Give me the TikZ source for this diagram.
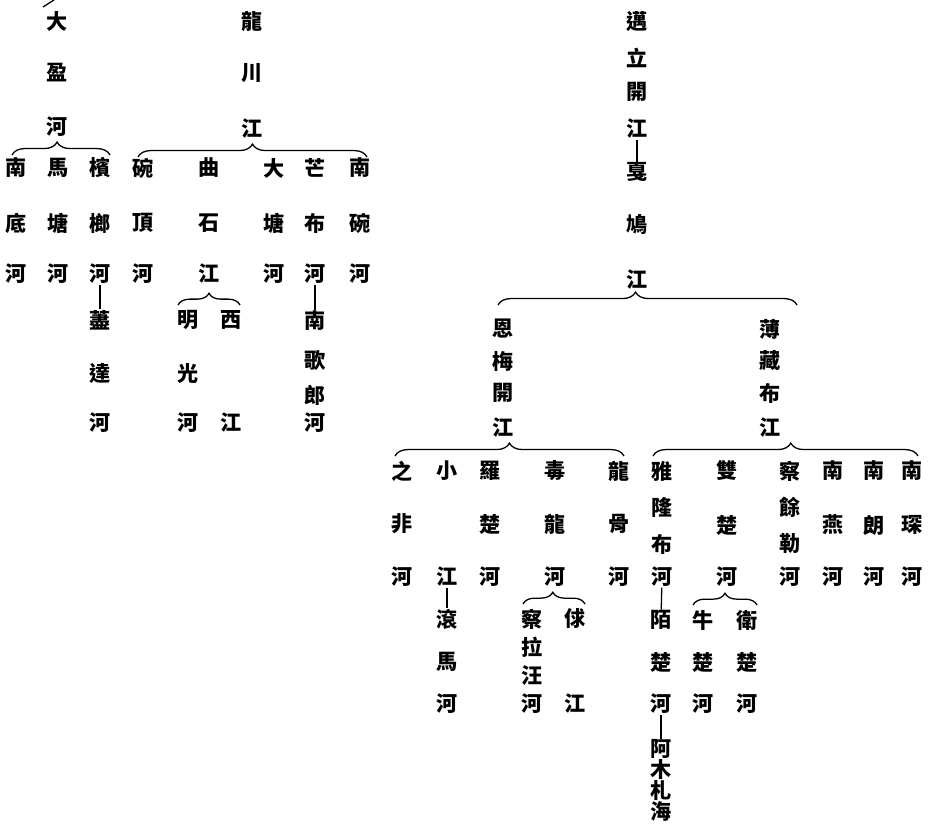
\documentclass[tikz,border=0pt]{standalone}
\usepackage{fontspec}
\newfontfamily\cjk{Noto Sans CJK TC}
\usetikzlibrary{decorations.pathreplacing}

\begin{document}
\begin{tikzpicture}[x=0.03cm, y=-0.03cm,
  zi/.style={font=\cjk\bfseries\fontsize{18pt}{18pt}\selectfont, inner sep=0.5pt},
  link/.style={line width=1.1pt},
  fork/.style={line width=1.1pt, decorate, decoration={brace, amplitude=#1}},
  fork/.default=11pt,
]
\useasboundingbox (0,0) rectangle (931,824);

\node[zi] (dy1) at (57, 21) {大};
\node[zi] (dy2) at (57, 73) {盈};
\node[zi] (dy3) at (57, 127) {河};
\node[zi] (lc1) at (252, 21) {龍};
\node[zi] (lc2) at (252, 73) {川};
\node[zi] (lc3) at (252, 129) {江};

\node[zi] (nd1) at (16, 168) {南};
\node[zi] (nd2) at (16, 223) {底};
\node[zi] (nd3) at (16, 274) {河};
\node[zi] (mt1) at (58, 168) {馬};
\node[zi] (mt2) at (58, 223) {塘};
\node[zi] (mt3) at (58, 274) {河};
\node[zi] (bl1) at (100, 168) {檳};
\node[zi] (bl2) at (100, 223) {榔};
\node[zi] (bl3) at (100, 274) {河};
\node[zi] (wd1) at (143, 168) {碗};
\node[zi] (wd2) at (143, 223) {頂};
\node[zi] (wd3) at (143, 274) {河};
\node[zi] (qs1) at (209, 168) {曲};
\node[zi] (qs2) at (209, 223) {石};
\node[zi] (qs3) at (209, 274) {江};
\node[zi] (dt1) at (274, 168) {大};
\node[zi] (dt2) at (274, 223) {塘};
\node[zi] (dt3) at (274, 274) {河};
\node[zi] (mb1) at (315, 168) {芒};
\node[zi] (mb2) at (315, 223) {布};
\node[zi] (mb3) at (315, 274) {河};
\node[zi] (nw1) at (360, 168) {南};
\node[zi] (nw2) at (360, 223) {碗};
\node[zi] (nw3) at (360, 274) {河};

\node[zi] (jd1) at (100, 320) {藎};
\node[zi] (jd2) at (100, 374) {達};
\node[zi] (jd3) at (100, 423) {河};
\node[zi] (mg1) at (188, 320) {明};
\node[zi] (mg2) at (188, 374) {光};
\node[zi] (mg3) at (188, 423) {河};
\node[zi] (xj1) at (231, 320) {西};
\node[zi] (xj2) at (231, 423) {江};
\node[zi] (ng1) at (315, 321) {南};
\node[zi] (ng2) at (315, 360) {歌};
\node[zi] (ng3) at (315, 395) {郎};
\node[zi] (ng4) at (315, 423) {河};

\node[zi] (ml1) at (637, 22) {邁};
\node[zi] (ml2) at (637, 58) {立};
\node[zi] (ml3) at (637, 92) {開};
\node[zi] (ml4) at (637, 129) {江};
\node[zi] (gj1) at (637, 172) {戛};
\node[zi] (gj2) at (637, 224) {鳩};
\node[zi] (gj3) at (637, 280) {江};

\node[zi] (em1) at (503, 329) {恩};
\node[zi] (em2) at (503, 361) {梅};
\node[zi] (em3) at (503, 393) {開};
\node[zi] (em4) at (503, 428) {江};
\node[zi] (bz1) at (770, 329) {薄};
\node[zi] (bz2) at (770, 361) {藏};
\node[zi] (bz3) at (770, 393) {布};
\node[zi] (bz4) at (770, 428) {江};

\node[zi] (zf1) at (402, 471) {之};
\node[zi] (zf2) at (402, 524) {非};
\node[zi] (zf3) at (402, 577) {河};
\node[zi] (xo1) at (447, 471) {小};
\node[zi] (xo2) at (447, 577) {江};
\node[zi] (gm1) at (447, 619) {滾};
\node[zi] (gm2) at (447, 662) {馬};
\node[zi] (gm3) at (447, 704) {河};
\node[zi] (lo1) at (490, 471) {羅};
\node[zi] (lo2) at (490, 524) {楚};
\node[zi] (lo3) at (490, 577) {河};
\node[zi] (dl1) at (555, 471) {毒};
\node[zi] (dl2) at (555, 524) {龍};
\node[zi] (dl3) at (555, 577) {河};
\node[zi] (cl1) at (532, 619) {察};
\node[zi] (cl2) at (532, 647) {拉};
\node[zi] (cl3) at (532, 676) {汪};
\node[zi] (cl4) at (532, 704) {河};
\node[zi] (qj1) at (575, 619) {俅};
\node[zi] (qj2) at (575, 704) {江};
\node[zi] (lg1) at (619, 471) {龍};
\node[zi] (lg2) at (619, 524) {骨};
\node[zi] (lg3) at (619, 577) {河};

\node[zi] (yl1) at (662, 471) {雅};
\node[zi] (yl2) at (662, 507) {隆};
\node[zi] (yl3) at (662, 544) {布};
\node[zi] (yl4) at (662, 577) {河};
\node[zi] (mc1) at (661, 620) {陌};
\node[zi] (mc2) at (661, 662) {楚};
\node[zi] (mc3) at (661, 704) {河};
\node[zi] (am1) at (661, 749) {阿};
\node[zi] (am2) at (661, 769) {木};
\node[zi] (am3) at (661, 790) {札};
\node[zi] (am4) at (661, 811) {海};
\node[zi] (sc1) at (727, 471) {雙};
\node[zi] (sc2) at (727, 525) {楚};
\node[zi] (sc3) at (727, 577) {河};
\node[zi] (nc1) at (703, 620) {牛};
\node[zi] (nc2) at (703, 662) {楚};
\node[zi] (nc3) at (703, 704) {河};
\node[zi] (wc1) at (747, 620) {衛};
\node[zi] (wc2) at (747, 662) {楚};
\node[zi] (wc3) at (747, 704) {河};
\node[zi] (cy1) at (790, 471) {察};
\node[zi] (cy2) at (790, 507) {餘};
\node[zi] (cy3) at (790, 544) {勒};
\node[zi] (cy4) at (790, 577) {河};
\node[zi] (ny1) at (833, 471) {南};
\node[zi] (ny2) at (833, 525) {燕};
\node[zi] (ny3) at (833, 577) {河};
\node[zi] (nl1) at (874, 471) {南};
\node[zi] (nl2) at (874, 525) {朗};
\node[zi] (nl3) at (874, 577) {河};
\node[zi] (ns1) at (912, 471) {南};
\node[zi] (ns2) at (912, 525) {琛};
\node[zi] (ns3) at (912, 577) {河};

\coordinate (top1) at (43, 7);
\coordinate (top2) at (54, 0);
\coordinate (dyL) at (12, 155);
\coordinate (dyR) at (110, 155);
\coordinate (lcL) at (138, 157);
\coordinate (lcR) at (367, 157);
\coordinate (qsL) at (178, 305);
\coordinate (qsR) at (240, 305);
\coordinate (gjL) at (498, 305);
\coordinate (gjR) at (797, 305);
\coordinate (emL) at (395, 456);
\coordinate (emR) at (624, 456);
\coordinate (bzL) at (653, 456);
\coordinate (bzR) at (918, 456);
\coordinate (dlL) at (523, 604);
\coordinate (dlR) at (585, 604);
\coordinate (scL) at (693, 605);
\coordinate (scR) at (757, 605);

\draw[link] (top1) -- (top2);
\draw[fork, decoration={aspect=0.46}] (dyL) -- (dyR);
\draw[fork] (lcL) -- (lcR);
\draw[fork=10pt] (qsL) -- (qsR);
\draw[fork, decoration={aspect=0.46}] (gjL) -- (gjR);
\draw[fork] (emL) -- (emR);
\draw[fork, decoration={aspect=0.52}] (bzL) -- (bzR);
\draw[fork=10pt, decoration={aspect=0.48}] (dlL) -- (dlR);
\draw[fork=10pt] (scL) -- (scR);

\draw[link] (bl3) -- (jd1);
\draw[link] (mb3) -- (ng1);
\draw[link] (ml4) -- (gj1);
\draw[link] (xo2) -- (gm1);
\draw[link] (yl4) -- (mc1);
\draw[link] (mc3) -- (am1);

\end{tikzpicture}
\end{document}
